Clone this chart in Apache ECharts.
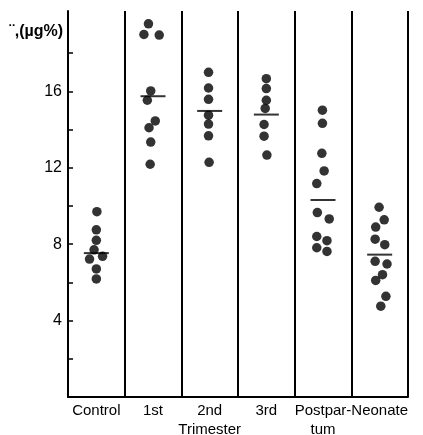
<!DOCTYPE html>
<html>
<head>
<meta charset="utf-8">
<script src="https://cdn.jsdelivr.net/npm/echarts@6/dist/echarts.min.js"></script>
<style>html,body{margin:0;padding:0;background:#fff}#c{width:423px;height:435px}</style>
</head>
<body>
<div id="c"></div>
<script>
var categories = ['Control', '1st', '2nd\nTrimester', '3rd', 'Postpar-\ntum', 'Neonate'];
var yTicks = [2, 4, 6, 8, 10, 12, 14, 16, 18];
var yLabels = [4, 8, 12, 16];
var yTitle = '¨,(µg%)';

// individual values per group
var controlVals = [9.70, 8.75, 8.20, 7.70, 7.22, 7.36, 6.70, 6.18];
var controlJit  = [0.01, 0.00, 0.00, -0.04, -0.12, 0.11, 0.00, 0.00];
var firstVals = [19.53, 18.97, 18.94, 16.02, 15.53, 14.45, 14.09, 13.34, 12.18];
var firstJit  = [-0.08, -0.16, 0.11, -0.04, -0.10, 0.04, -0.07, -0.04, -0.05];
var secondVals = [16.99, 16.17, 15.58, 14.75, 14.28, 13.67, 12.28];
var secondJit  = [-0.02, -0.02, -0.02, -0.02, -0.02, -0.02, -0.01];
var thirdVals = [16.66, 16.14, 15.53, 15.10, 14.26, 13.65, 12.66];
var thirdJit  = [0.00, 0.00, 0.00, -0.02, -0.04, -0.04, 0.01];
var postVals = [15.01, 14.32, 12.75, 11.83, 11.17, 9.65, 9.32, 8.40, 8.18, 7.81, 7.62];
var postJit  = [-0.01, -0.01, -0.02, 0.02, -0.11, -0.10, 0.11, -0.11, 0.07, -0.11, 0.07];
var neoVals = [9.93, 9.27, 8.89, 8.26, 7.97, 7.10, 6.96, 6.40, 6.10, 5.27, 4.75];
var neoJit  = [-0.01, 0.08, -0.07, -0.08, 0.09, -0.08, 0.13, 0.05, -0.07, 0.11, 0.02];
var means = [7.53, 15.74, 14.97, 14.78, 10.31, 7.45];

var groups = [[controlVals, controlJit], [firstVals, firstJit], [secondVals, secondJit],
              [thirdVals, thirdJit], [postVals, postJit], [neoVals, neoJit]];
var points = [];
groups.forEach(function (g, i) {
  g[0].forEach(function (v, k) { points.push([i + 0.5 + g[1][k], v]); });
});

var FONT = 'Liberation Sans';
var chart = echarts.init(document.getElementById('c'));
chart.setOption({
  animation: false,
  backgroundColor: '#fff',
  grid: { left: 68, right: 15, top: 11, bottom: 38, outerBoundsMode: 'none', containLabel: false },
  graphic: [{
    type: 'text', right: 360, top: 24,
    style: { text: yTitle, font: 'bold 16px "Liberation Sans"', fill: '#000' }
  }],
  xAxis: [{
    type: 'category', data: categories, boundaryGap: true,
    axisLine: { lineStyle: { color: '#000', width: 2 } },
    axisTick: { show: false },
    splitLine: { show: true, interval: 0, lineStyle: { color: '#000', width: 2 } },
    axisLabel: { interval: 0, color: '#000', fontFamily: FONT, fontSize: 15, margin: 4, lineHeight: 19 }
  }, {
    type: 'value', min: 0, max: 6, show: false
  }],
  yAxis: {
    type: 'value', min: 0, max: 20.2,
    axisLine: { show: true, lineStyle: { color: '#000', width: 2 } },
    axisTick: { show: true, inside: true, length: 5, customValues: yTicks, lineStyle: { color: '#000', width: 1.5 } },
    axisLabel: { customValues: yLabels, color: '#000', fontFamily: FONT, fontSize: 16, margin: 6 },
    splitLine: { show: false }
  },
  series: [{
    type: 'scatter', xAxisIndex: 1, data: points,
    symbol: 'circle', symbolSize: 9.5,
    itemStyle: { color: '#000' }
  }, {
    type: 'scatter', xAxisIndex: 0, data: means,
    symbol: 'rect', symbolSize: [25, 2],
    itemStyle: { color: '#000' }
  }]
});
</script>
</body>
</html>
